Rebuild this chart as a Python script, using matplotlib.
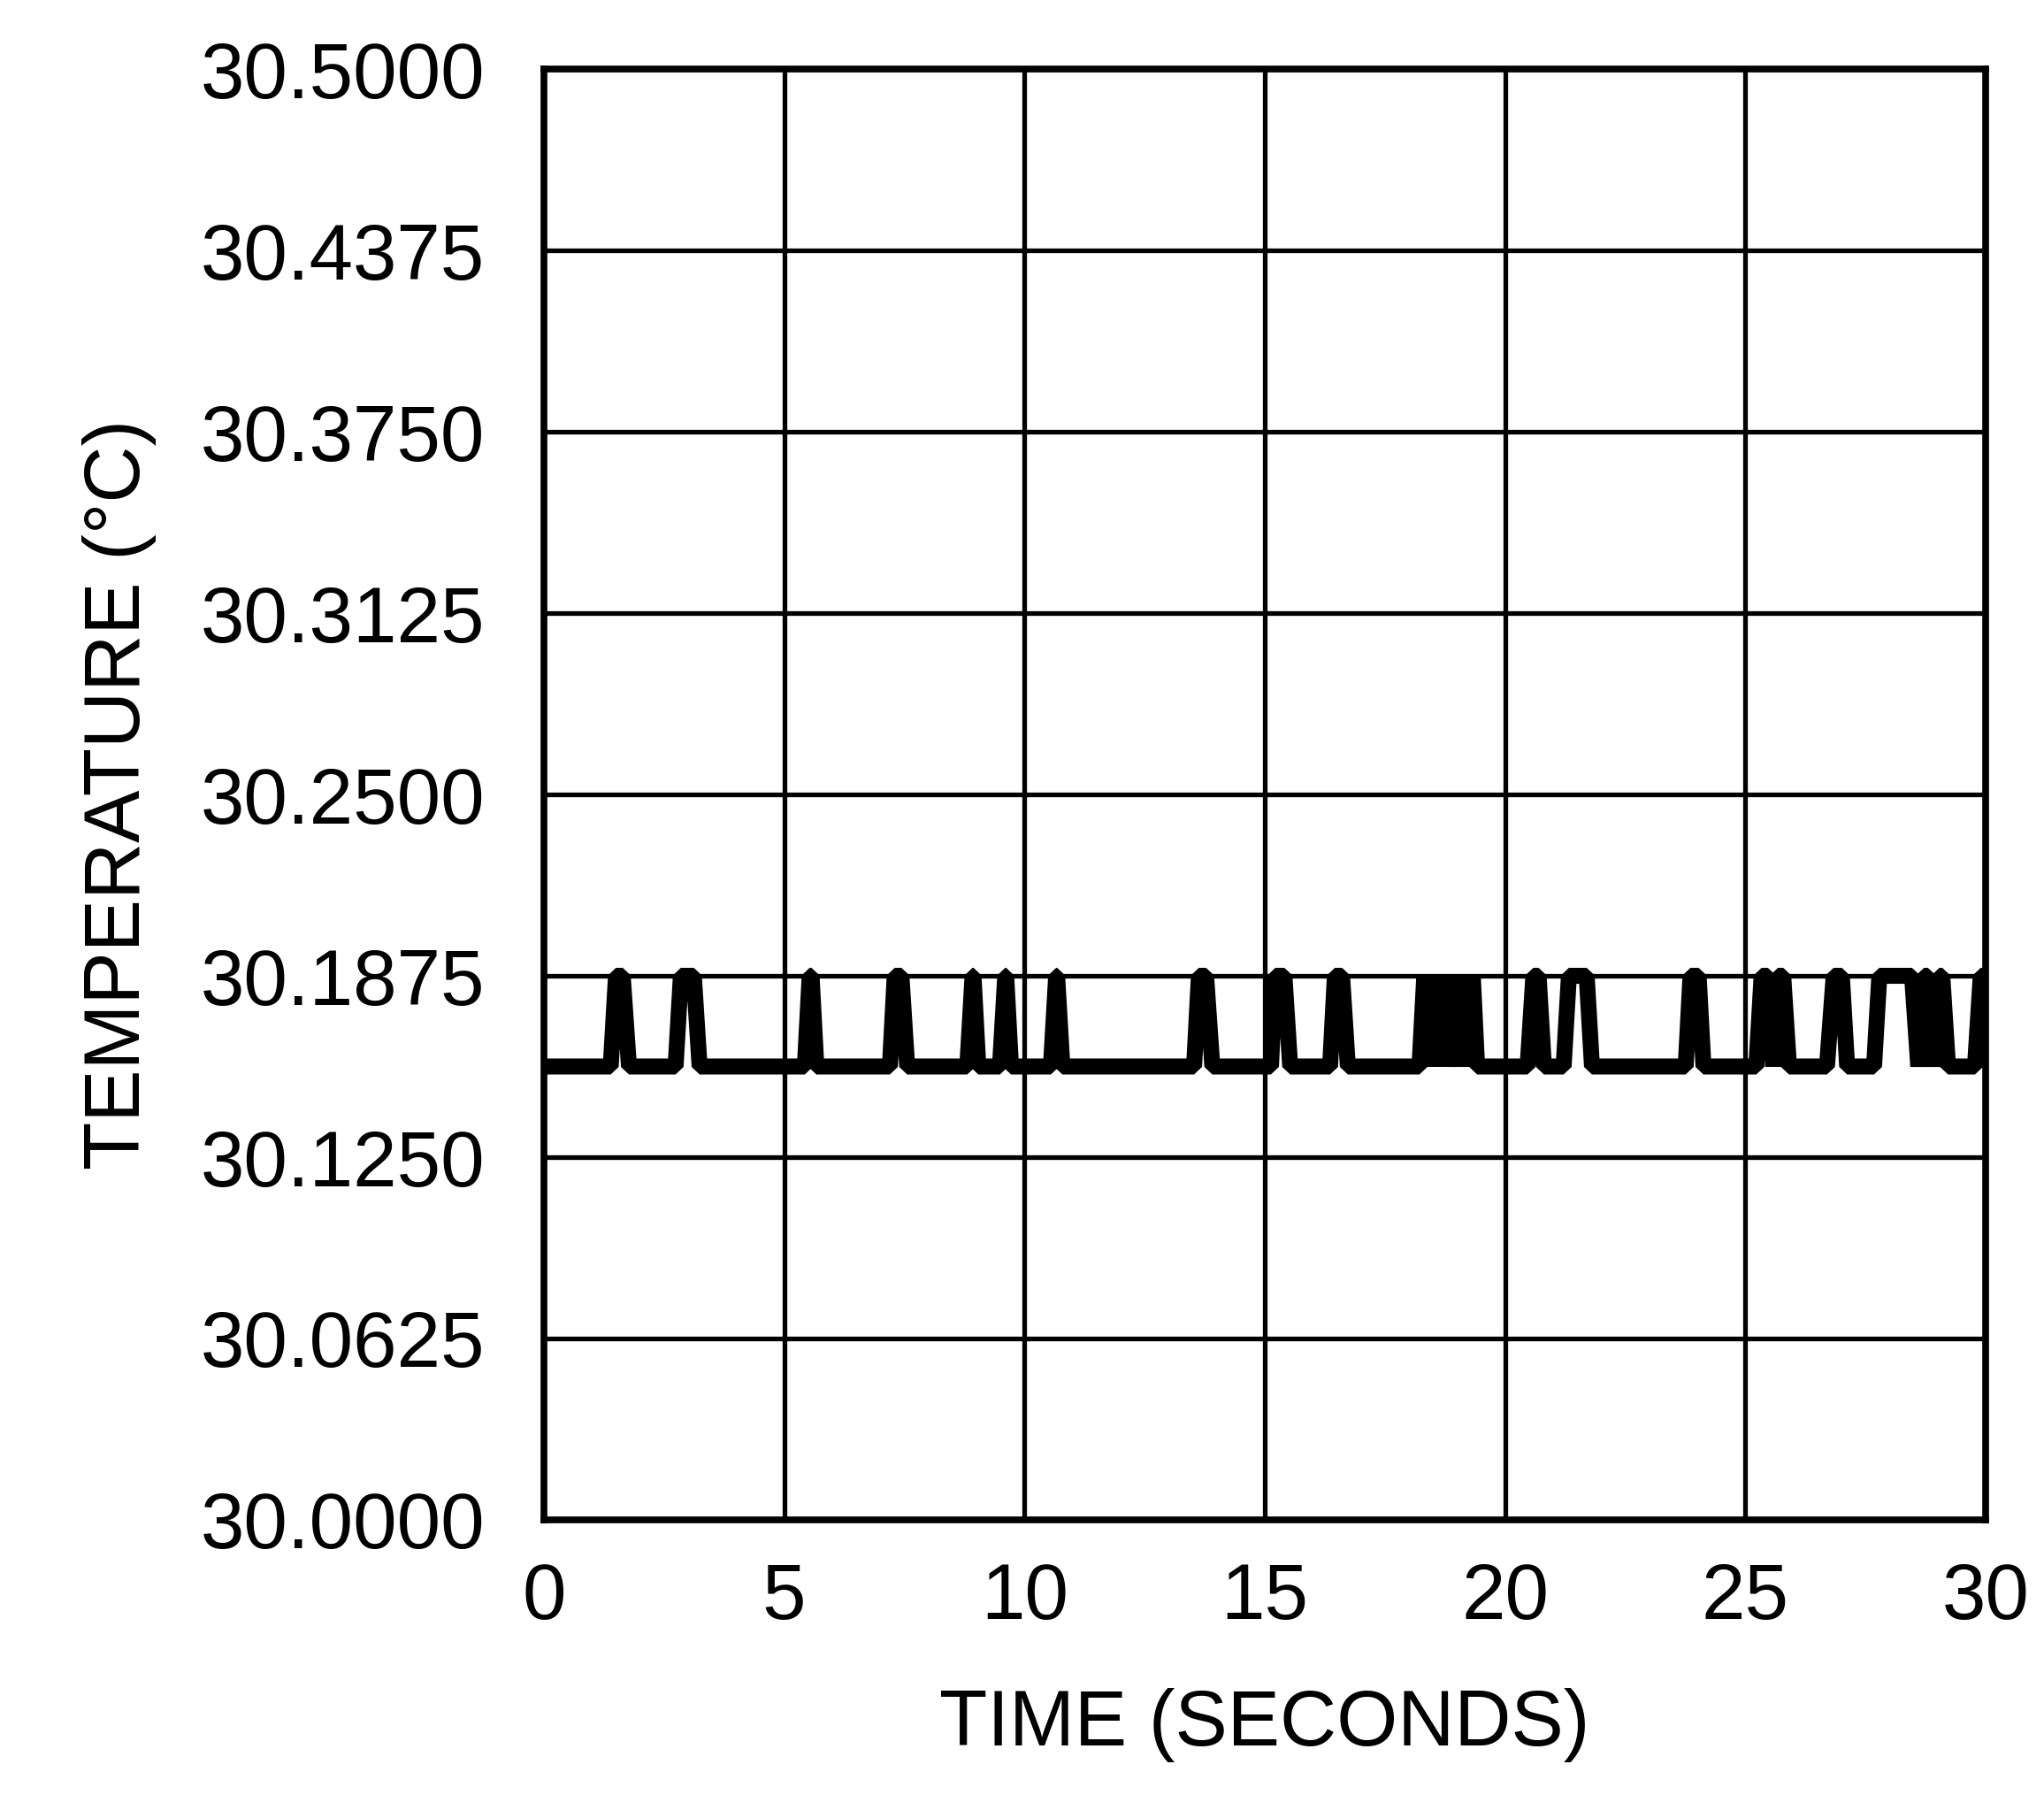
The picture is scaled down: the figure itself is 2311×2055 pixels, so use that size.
import matplotlib
matplotlib.use("Agg")
import matplotlib.pyplot as plt

plt.rcParams['font.family'] = ['Liberation Sans', 'DejaVu Sans']

# temperature readings: two output codes, 30.15625 (low) and 30.1875 (high)
LOW = 30.15625
HIGH = 30.1875

time_s = [0.0,
          1.39, 1.50, 1.64, 1.77,
          2.74, 2.85, 3.12, 3.24,
          5.43, 5.53, 5.57, 5.67,
          7.20, 7.30, 7.44, 7.56,
          8.81, 8.92, 8.94, 9.04,
          9.49, 9.60, 9.62, 9.72,
          10.55, 10.66, 10.68, 10.79,
          13.53, 13.63, 13.78, 13.91,
          15.13, 15.22, 15.41, 15.53,
          16.36, 16.46, 16.61, 16.73,
          18.22, 18.32, 18.41, 18.51, 18.61, 18.71, 18.81, 18.92, 19.04, 19.14, 19.25, 19.33, 19.42,
          20.47, 20.59, 20.70, 20.81,
          21.22, 21.33, 21.70, 21.81,
          23.76, 23.86, 24.03, 24.13,
          25.23, 25.34, 25.47, 25.58, 25.68, 25.79, 25.91,
          26.70, 26.84, 27.01, 27.12,
          27.68, 27.79, 28.47, 28.60, 28.72, 28.80, 28.92, 29.04, 29.10, 29.22,
          29.78, 29.90, 30.0]

temp_c = [LOW,
          LOW, HIGH, HIGH, LOW,
          LOW, HIGH, HIGH, LOW,
          LOW, HIGH, HIGH, LOW,
          LOW, HIGH, HIGH, LOW,
          LOW, HIGH, HIGH, LOW,
          LOW, HIGH, HIGH, LOW,
          LOW, HIGH, HIGH, LOW,
          LOW, HIGH, HIGH, LOW,
          LOW, HIGH, HIGH, LOW,
          LOW, HIGH, HIGH, LOW,
          LOW, HIGH, LOW, HIGH, LOW, HIGH, LOW, HIGH, LOW, HIGH, LOW, HIGH, LOW,
          LOW, HIGH, HIGH, LOW,
          LOW, HIGH, HIGH, LOW,
          LOW, HIGH, HIGH, LOW,
          LOW, HIGH, HIGH, LOW, HIGH, HIGH, LOW,
          LOW, HIGH, HIGH, LOW,
          LOW, HIGH, HIGH, LOW, HIGH, HIGH, LOW, HIGH, HIGH, LOW,
          LOW, HIGH, HIGH]

x_ticks = [0, 5, 10, 15, 20, 25, 30]
y_ticks = [30.0, 30.0625, 30.125, 30.1875, 30.25, 30.3125, 30.375, 30.4375, 30.5]

fig = plt.figure(figsize=(23.11, 20.55), dpi=100)
ax = fig.add_axes([0.2661, 0.164, 0.7053, 0.798])

ax.plot(time_s, temp_c, color='black', linewidth=13, solid_joinstyle='bevel',
        solid_capstyle='butt', zorder=3)

ax.set_xlim(0, 30)
ax.set_ylim(30.0, 30.5)
ax.set_xticks(x_ticks)
ax.set_yticks(y_ticks)
ax.set_yticklabels(['%.4f' % v for v in y_ticks])
ax.grid(True, color='black', linewidth=3.8)
ax.set_axisbelow(True)
for s in ax.spines.values():
    s.set_linewidth(5.5)
    s.set_zorder(4)
ax.tick_params(length=0, labelsize=64, pad=34)
ax.tick_params(axis='y', pad=48)

ax.set_xlabel('TIME (SECONDS)', fontsize=64, labelpad=42)
ax.set_ylabel('TEMPERATURE (°C)', fontsize=64, labelpad=36)

fig.savefig('out.png', dpi=100, facecolor='white')
